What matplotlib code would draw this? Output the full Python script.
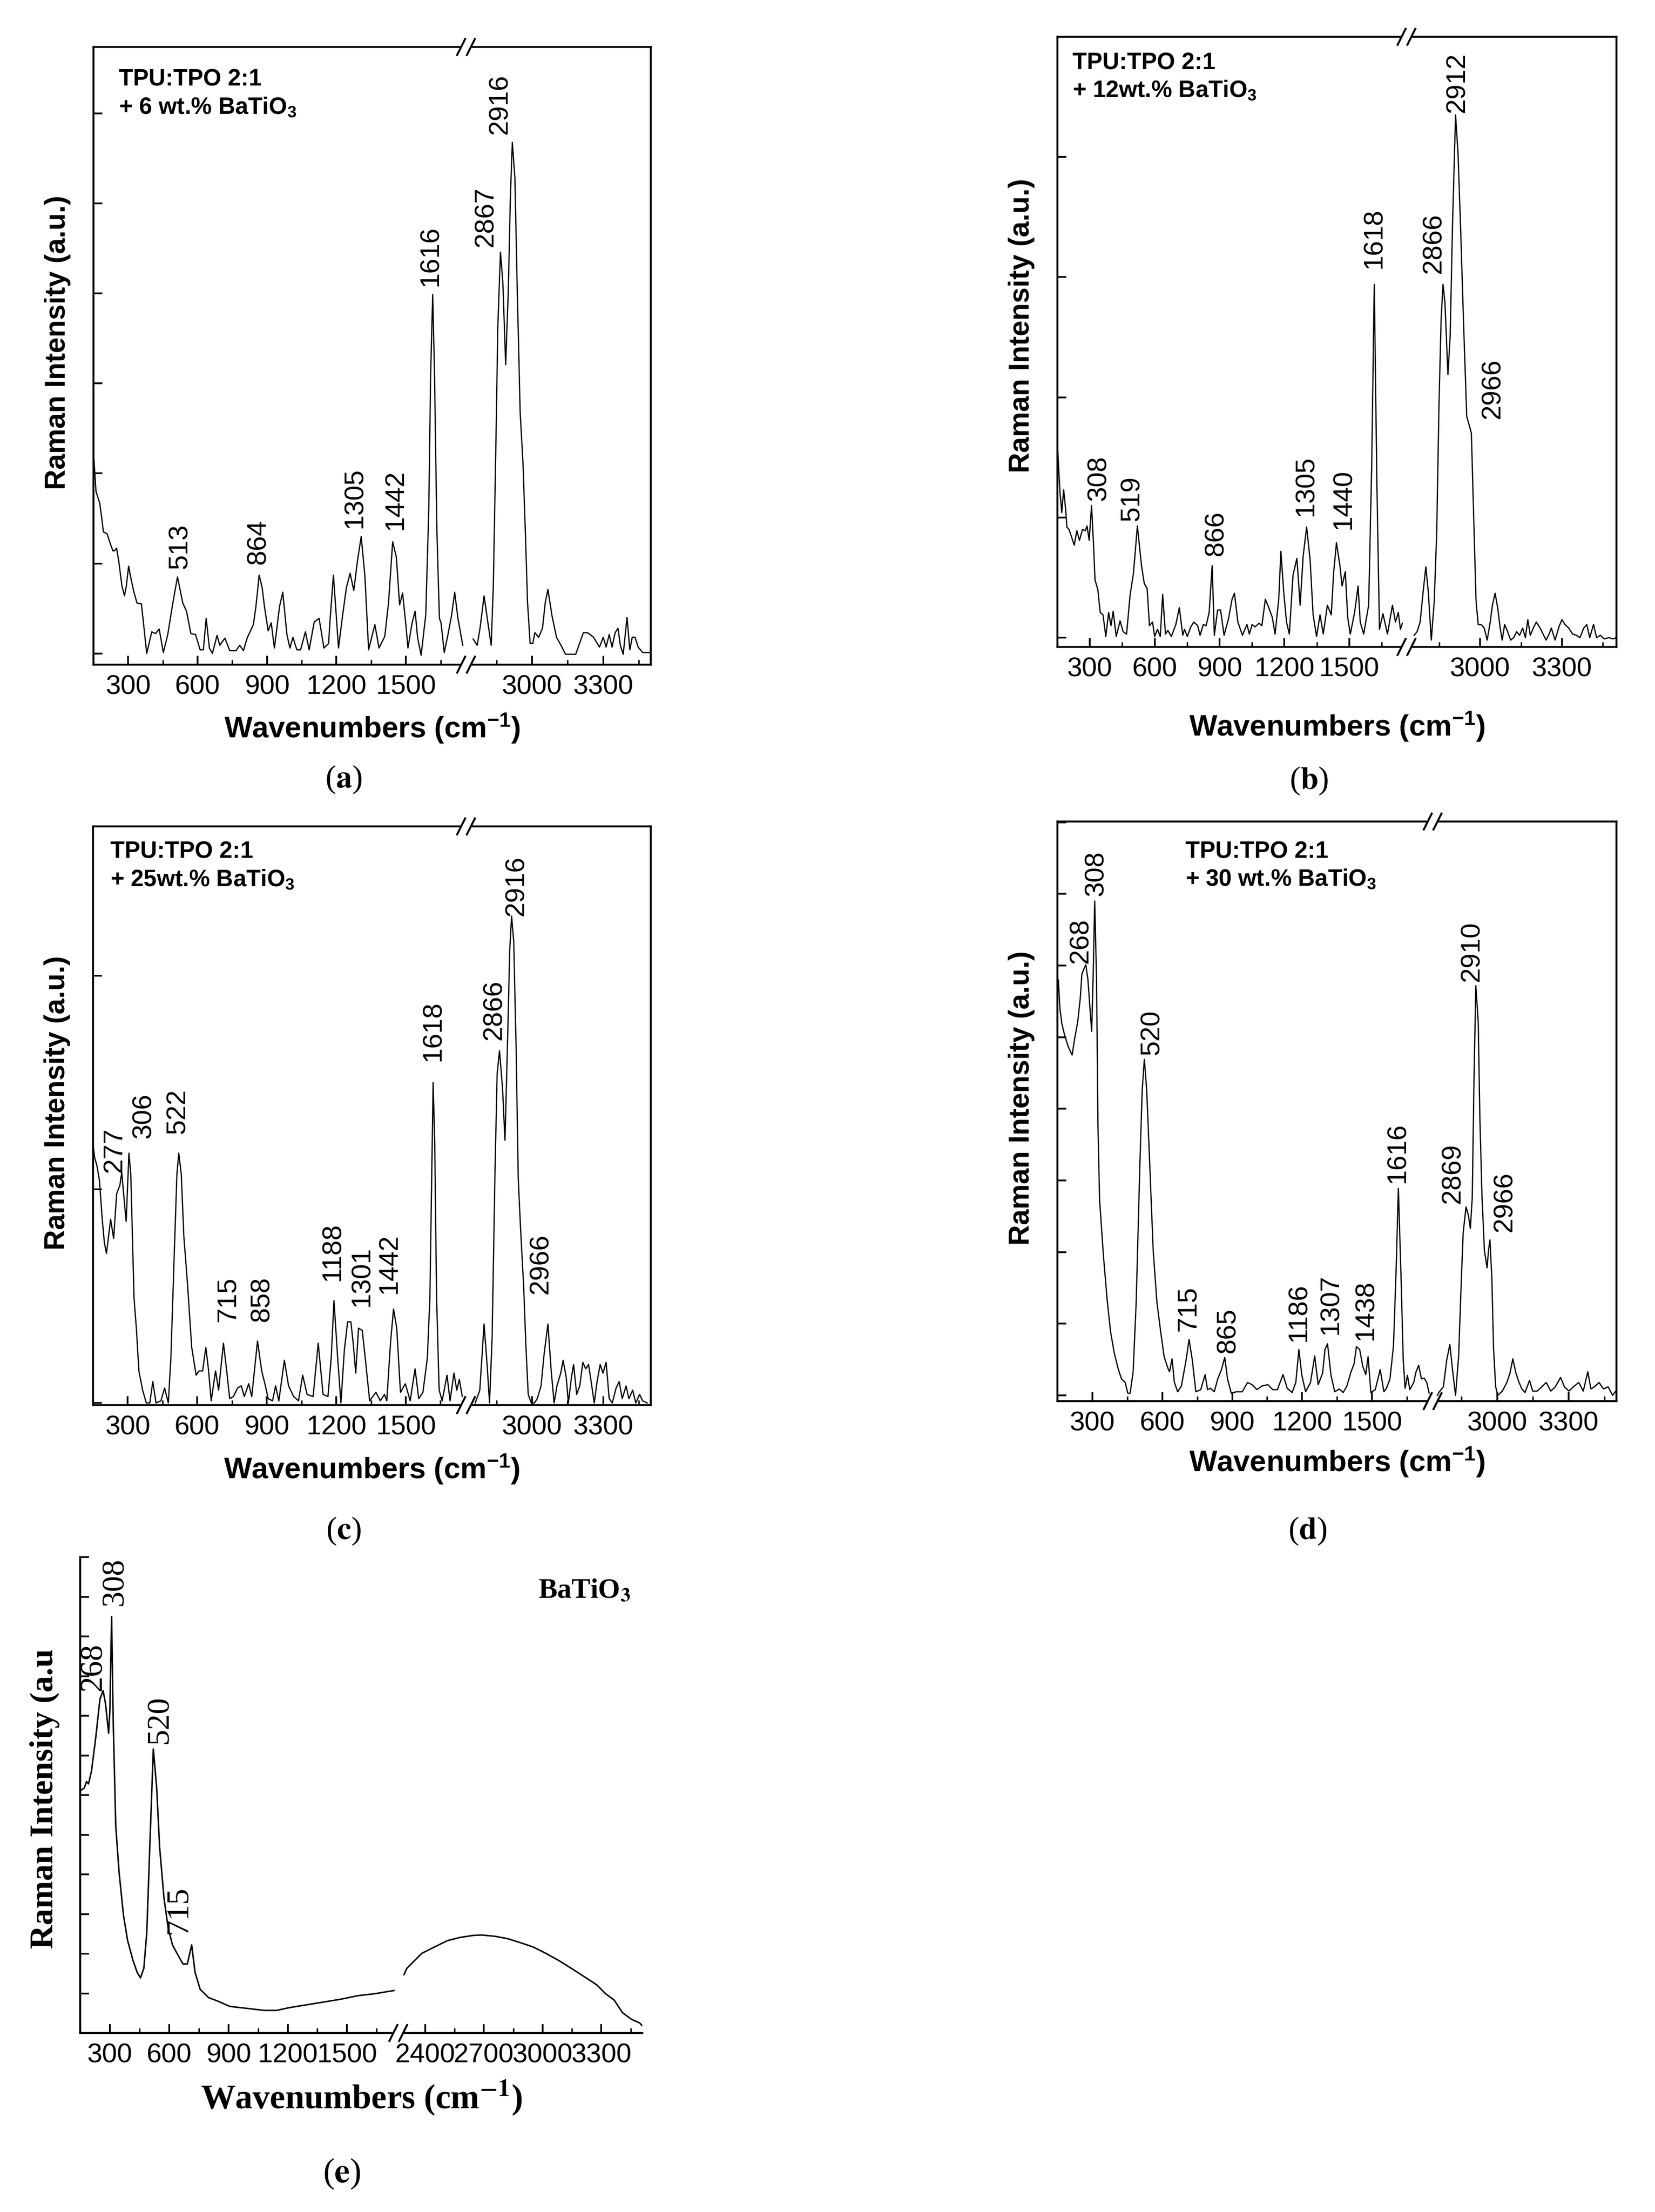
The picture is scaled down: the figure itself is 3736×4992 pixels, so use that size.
import matplotlib
matplotlib.use("Agg")
import matplotlib.pyplot as plt
from matplotlib.ticker import MultipleLocator
from matplotlib.lines import Line2D
from matplotlib.patches import Rectangle

plt.rcParams['font.family'] = ['Liberation Sans', 'DejaVu Sans']
plt.rcParams['mathtext.fontset'] = 'custom'
plt.rcParams['mathtext.rm'] = 'Liberation Sans'
plt.rcParams['mathtext.it'] = 'Liberation Sans:italic'
plt.rcParams['mathtext.bf'] = 'Liberation Sans:bold'

# ---------------- spectra (wavenumber, intensity a.u.) ----------------
a_left = [(150, 2.23), (161, 1.80), (177, 1.67), (187, 1.48), (193, 1.35), (209, 1.33), (220, 1.24),
          (234, 1.14), (241, 1.14), (250, 1.17), (259, 1.03), (273, 0.75), (284, 0.64), (292, 0.75),
          (302, 0.97), (313, 0.82), (324, 0.69), (338, 0.56), (357, 0.55), (364, 0.39), (380, 0.00),
          (402, 0.24), (418, 0.22), (434, 0.27), (452, 0.01), (471, 0.21), (493, 0.56), (513, 0.85),
          (536, 0.56), (552, 0.47), (571, 0.22), (591, 0.21), (611, 0.04), (625, 0.04), (637, 0.39),
          (651, 0.06), (664, 0.00), (684, 0.20), (696, 0.09), (718, 0.17), (739, 0.03), (766, 0.03),
          (782, 0.09), (798, 0.03), (814, 0.17), (841, 0.32), (852, 0.52), (866, 0.87), (879, 0.73),
          (889, 0.52), (905, 0.25), (918, 0.34), (932, 0.06), (954, 0.52), (968, 0.68), (986, 0.21),
          (999, 0.06), (1012, 0.18), (1029, 0.04), (1045, 0.04), (1066, 0.24), (1082, 0.04),
          (1104, 0.35), (1125, 0.39), (1146, 0.06), (1166, 0.11), (1173, 0.39), (1187, 0.87),
          (1209, 0.06), (1227, 0.43), (1243, 0.73), (1259, 0.89), (1275, 0.70), (1291, 1.03),
          (1307, 1.30), (1323, 0.86), (1339, 0.04), (1366, 0.32), (1384, 0.06), (1409, 0.19),
          (1425, 0.56), (1443, 1.24), (1459, 1.07), (1473, 0.54), (1486, 0.67), (1500, 0.32),
          (1509, 0.06), (1527, 0.34), (1540, 0.47), (1551, 0.17), (1566, -0.02), (1586, 0.43),
          (1599, 1.59), (1607, 3.09), (1616, 3.99), (1624, 3.09), (1634, 1.37), (1645, 0.39),
          (1652, 0.34), (1666, 0.01), (1682, 0.21), (1698, 0.43), (1711, 0.68), (1725, 0.39),
          (1746, 0.09)]
a_right = [(2752, 0.16), (2769, 0.09), (2781, 0.28), (2798, 0.64), (2812, 0.38), (2828, 0.09),
           (2837, 0.76), (2847, 2.20), (2856, 3.64), (2867, 4.46), (2877, 4.13), (2889, 3.21),
           (2900, 4.03), (2909, 5.09), (2917, 5.68), (2928, 5.28), (2937, 4.13), (2950, 2.68),
           (2962, 2.11), (2972, 1.34), (2981, 0.57), (2992, 0.11), (3003, 0.11), (3012, 0.23),
           (3028, 0.18), (3044, 0.28), (3056, 0.57), (3067, 0.71), (3084, 0.42), (3103, 0.18),
           (3122, 0.09), (3141, -0.01), (3159, -0.01), (3184, -0.01), (3216, 0.23), (3234, 0.23),
           (3259, 0.18), (3284, 0.07), (3300, 0.18), (3312, 0.07), (3325, 0.21), (3337, 0.07),
           (3350, 0.23), (3362, 0.28), (3372, 0.09), (3384, -0.01), (3400, 0.40), (3412, 0.04),
           (3422, 0.18), (3434, 0.18), (3447, 0.07), (3466, 0.01), (3497, 0.01)]

b_left = [(151, 1.57), (162, 1.21), (170, 1.04), (179, 1.23), (188, 1.07), (194, 0.92), (204, 0.90),
          (215, 0.84), (228, 0.77), (240, 0.89), (252, 0.81), (266, 0.90), (279, 0.89), (287, 0.93),
          (297, 0.81), (308, 1.10), (318, 0.74), (324, 0.48), (337, 0.40), (348, 0.21), (361, 0.19),
          (374, 0.01), (387, 0.21), (398, 0.10), (408, 0.22), (422, 0.01), (440, 0.14), (454, 0.05),
          (470, 0.03), (486, 0.35), (502, 0.54), (520, 0.93), (539, 0.60), (552, 0.45), (565, 0.41),
          (576, 0.10), (590, 0.13), (600, 0.01), (613, 0.07), (626, 0.01), (637, 0.36), (650, 0.03),
          (661, 0.06), (677, 0.01), (698, 0.11), (714, 0.25), (730, 0.02), (738, 0.07), (751, 0.01),
          (767, 0.09), (781, 0.13), (799, 0.10), (810, 0.02), (825, 0.11), (838, 0.10), (852, 0.21),
          (866, 0.60), (876, 0.02), (891, 0.23), (905, 0.23), (921, 0.02), (942, 0.16), (958, 0.32),
          (969, 0.37), (985, 0.13), (1006, 0.02), (1027, 0.11), (1038, 0.03), (1051, 0.11),
          (1064, 0.09), (1083, 0.12), (1096, 0.10), (1112, 0.32), (1130, 0.24), (1144, 0.17),
          (1157, 0.03), (1174, 0.32), (1184, 0.72), (1197, 0.38), (1210, 0.13), (1223, 0.03),
          (1240, 0.52), (1258, 0.66), (1273, 0.27), (1287, 0.68), (1303, 0.92), (1319, 0.65),
          (1333, 0.19), (1349, 0.01), (1365, 0.19), (1380, 0.03), (1399, 0.27), (1417, 0.19),
          (1428, 0.54), (1441, 0.79), (1457, 0.60), (1467, 0.43), (1482, 0.55), (1493, 0.17),
          (1505, 0.03), (1525, 0.21), (1541, 0.43), (1551, 0.13), (1567, 0.03), (1590, 0.27),
          (1604, 1.43), (1616, 2.94), (1628, 1.29), (1640, 0.07), (1656, 0.20), (1677, 0.03),
          (1700, 0.27), (1714, 0.13), (1727, 0.21), (1737, 0.07), (1746, 0.12)]
b_right = [(2758, 0.02), (2769, 0.05), (2780, 0.13), (2791, 0.38), (2801, 0.59), (2810, 0.38),
           (2821, -0.02), (2832, 0.31), (2841, 0.89), (2849, 1.92), (2857, 2.65), (2864, 2.94),
           (2871, 2.79), (2882, 2.19), (2890, 2.50), (2899, 3.45), (2910, 4.35), (2919, 4.03),
           (2929, 3.37), (2940, 2.57), (2951, 1.84), (2960, 1.77), (2968, 1.70), (2976, 1.04),
           (2985, 0.31), (2993, 0.11), (3004, 0.11), (3015, 0.08), (3026, -0.02), (3037, 0.13),
           (3045, 0.27), (3055, 0.37), (3065, 0.24), (3073, 0.09), (3081, -0.02), (3090, 0.11),
           (3101, 0.05), (3112, -0.02), (3123, 0.00), (3134, 0.05), (3145, 0.02), (3156, 0.08),
           (3166, 0.00), (3175, 0.15), (3184, 0.02), (3195, 0.08), (3206, 0.13), (3220, 0.08),
           (3231, 0.03), (3242, -0.02), (3253, 0.03), (3261, 0.08), (3275, -0.02), (3289, 0.09),
           (3300, 0.15), (3311, 0.11), (3325, 0.08), (3339, 0.03), (3353, 0.02), (3366, 0.00),
           (3380, 0.08), (3391, 0.11), (3402, 0.00), (3416, 0.11), (3427, 0.00), (3441, 0.02),
           (3455, -0.01), (3472, 0.00), (3488, -0.01), (3499, 0.00)]

c_left = [(150, 1.21), (157, 1.15), (167, 1.11), (178, 1.04), (189, 0.87), (199, 0.75), (208, 0.70),
          (217, 0.78), (226, 0.86), (239, 0.77), (252, 0.98), (266, 1.02), (274, 1.08), (282, 0.98),
          (293, 0.85), (305, 1.17), (313, 1.07), (327, 0.49), (337, 0.35), (348, 0.15), (364, 0.06),
          (380, 0.00), (395, 0.00), (408, 0.10), (422, 0.00), (443, 0.01), (459, 0.07), (475, 0.00),
          (486, 0.21), (501, 0.71), (512, 1.07), (520, 1.17), (531, 1.07), (542, 0.78), (557, 0.57),
          (576, 0.26), (595, 0.13), (607, 0.15), (623, 0.15), (637, 0.26), (648, 0.16), (660, 0.01),
          (679, 0.15), (692, 0.06), (713, 0.28), (726, 0.16), (740, 0.02), (756, 0.03), (774, 0.07),
          (790, 0.08), (803, 0.03), (822, 0.09), (835, 0.03), (860, 0.29), (878, 0.15), (894, 0.08),
          (906, 0.02), (925, 0.01), (938, 0.08), (952, 0.01), (976, 0.20), (994, 0.08), (1016, 0.03),
          (1037, 0.01), (1055, 0.13), (1074, 0.04), (1100, 0.03), (1122, 0.28), (1143, 0.04),
          (1164, 0.03), (1178, 0.21), (1190, 0.48), (1206, 0.21), (1220, 0.00), (1235, 0.25),
          (1249, 0.38), (1263, 0.38), (1273, 0.28), (1284, 0.14), (1296, 0.35), (1312, 0.34),
          (1328, 0.18), (1344, 0.01), (1371, 0.05), (1390, 0.01), (1408, 0.04), (1418, 0.01),
          (1434, 0.28), (1447, 0.44), (1461, 0.35), (1477, 0.05), (1498, 0.09), (1519, 0.01),
          (1540, 0.16), (1556, 0.02), (1574, 0.05), (1593, 0.21), (1604, 0.49), (1610, 0.92),
          (1618, 1.50), (1625, 1.21), (1633, 0.49), (1644, 0.06), (1657, 0.01), (1678, 0.13),
          (1691, 0.01), (1708, 0.14), (1720, 0.06), (1731, 0.11), (1744, 0.03)]
c_right = [(2761, 0.00), (2780, 0.06), (2798, 0.37), (2812, 0.16), (2821, 0.00), (2832, 0.31),
           (2844, 1.08), (2853, 1.54), (2863, 1.65), (2876, 1.47), (2886, 1.23), (2898, 1.74),
           (2906, 2.12), (2914, 2.28), (2923, 2.16), (2933, 1.66), (2942, 1.05), (2952, 0.81),
           (2965, 0.54), (2974, 0.27), (2984, 0.04), (2997, 0.00), (3010, 0.00), (3022, 0.02),
           (3038, 0.08), (3051, 0.23), (3067, 0.37), (3080, 0.16), (3093, 0.00), (3105, 0.08),
           (3121, 0.14), (3131, 0.20), (3144, 0.12), (3153, 0.00), (3166, 0.12), (3175, 0.18),
           (3188, 0.04), (3201, 0.08), (3214, 0.19), (3226, 0.16), (3238, 0.18), (3249, 0.10),
           (3262, 0.00), (3274, 0.10), (3287, 0.18), (3299, 0.14), (3312, 0.19), (3325, 0.02),
           (3338, 0.00), (3354, 0.07), (3367, 0.10), (3380, 0.02), (3396, 0.08), (3408, 0.02),
           (3424, 0.06), (3437, 0.00), (3453, 0.04), (3466, 0.01), (3485, 0.00)]

d_left = [(154, 5.80), (161, 5.39), (169, 5.19), (180, 5.04), (195, 4.88), (213, 4.75), (224, 4.98),
          (237, 5.21), (248, 5.54), (255, 5.88), (263, 5.95), (272, 6.01), (281, 5.80), (290, 5.39),
          (297, 5.08), (303, 5.80), (310, 6.90), (318, 5.80), (324, 3.76), (331, 2.73), (347, 1.97),
          (363, 1.35), (378, 0.89), (394, 0.59), (410, 0.38), (425, 0.23), (441, 0.18), (452, 0.03),
          (462, 0.03), (475, 0.33), (488, 1.30), (504, 3.24), (514, 4.27), (523, 4.69), (533, 4.27),
          (546, 3.24), (561, 2.02), (577, 1.30), (593, 0.89), (608, 0.54), (624, 0.38), (631, 0.33),
          (642, 0.51), (652, 0.18), (666, 0.05), (682, 0.13), (702, 0.49), (715, 0.78), (729, 0.49),
          (744, 0.05), (765, 0.08), (784, 0.29), (794, 0.08), (807, 0.10), (823, 0.05), (838, 0.23),
          (854, 0.36), (868, 0.53), (880, 0.23), (896, 0.03), (917, 0.05), (943, 0.05), (966, 0.18),
          (985, 0.15), (1006, 0.08), (1027, 0.13), (1053, 0.15), (1074, 0.08), (1094, 0.08),
          (1118, 0.29), (1136, 0.10), (1157, 0.04), (1173, 0.18), (1186, 0.64), (1199, 0.28),
          (1215, 0.05), (1236, 0.18), (1254, 0.55), (1269, 0.15), (1288, 0.31), (1298, 0.64),
          (1309, 0.72), (1324, 0.28), (1340, 0.05), (1359, 0.09), (1376, 0.04), (1392, 0.13),
          (1410, 0.33), (1423, 0.44), (1433, 0.68), (1447, 0.64), (1460, 0.41), (1473, 0.29),
          (1483, 0.54), (1495, 0.04), (1514, 0.08), (1535, 0.36), (1551, 0.05), (1562, 0.10),
          (1577, 0.23), (1592, 0.69), (1603, 1.71), (1613, 2.89), (1624, 1.71), (1634, 0.49),
          (1642, 0.10), (1652, 0.28), (1662, 0.08), (1679, 0.18), (1689, 0.33), (1700, 0.42),
          (1712, 0.23), (1724, 0.24), (1735, 0.18), (1745, 0.03)]
d_right = [(2750, 0.00), (2756, 0.04), (2775, 0.12), (2789, 0.49), (2802, 0.71), (2815, 0.31),
           (2826, 0.00), (2839, 0.55), (2848, 1.41), (2858, 2.27), (2870, 2.63), (2880, 2.51),
           (2888, 2.33), (2896, 2.76), (2903, 4.35), (2911, 5.72), (2921, 5.21), (2928, 3.86),
           (2937, 2.76), (2947, 2.02), (2958, 1.78), (2964, 2.02), (2970, 2.17), (2978, 1.65),
           (2985, 0.67), (2994, 0.12), (3003, 0.00), (3022, 0.06), (3041, 0.18), (3054, 0.31),
           (3066, 0.51), (3079, 0.31), (3092, 0.18), (3104, 0.09), (3117, 0.04), (3136, 0.21),
           (3149, 0.06), (3168, 0.06), (3187, 0.12), (3206, 0.18), (3225, 0.06), (3244, 0.12),
           (3266, 0.25), (3282, 0.12), (3301, 0.06), (3320, 0.12), (3342, 0.18), (3361, 0.06),
           (3380, 0.33), (3393, 0.09), (3408, 0.12), (3427, 0.18), (3446, 0.09), (3465, 0.12),
           (3484, 0.00), (3497, 0.06)]

e_left = [(154, 6.12), (171, 6.18), (182, 6.34), (192, 6.28), (207, 6.60), (229, 7.46), (250, 8.42),
          (266, 8.63), (278, 8.31), (294, 7.56), (300, 8.10), (309, 10.50), (317, 7.88), (330, 5.21),
          (347, 4.04), (369, 2.97), (390, 2.33), (416, 1.85), (438, 1.53), (455, 1.39), (472, 1.63),
          (487, 2.54), (502, 4.68), (520, 7.16), (537, 6.18), (552, 4.68), (574, 3.40), (595, 2.65),
          (617, 2.22), (645, 1.96), (670, 1.74), (692, 1.74), (714, 2.22), (731, 1.53), (757, 1.10),
          (800, 0.89), (843, 0.81), (907, 0.67), (994, 0.62), (1080, 0.57), (1144, 0.57),
          (1209, 0.64), (1295, 0.71), (1381, 0.78), (1467, 0.85), (1554, 0.94), (1640, 0.99),
          (1737, 1.07)]
e_right = [(2291, 1.47), (2306, 1.63), (2328, 1.74), (2383, 2.01), (2448, 2.17), (2514, 2.33),
           (2579, 2.41), (2645, 2.46), (2688, 2.47), (2754, 2.44), (2820, 2.38), (2885, 2.28),
           (2951, 2.17), (3016, 2.01), (3082, 1.83), (3147, 1.63), (3213, 1.42), (3278, 1.21),
           (3322, 0.99), (3366, 0.83), (3409, 0.51), (3453, 0.35), (3497, 0.25), (3508, 0.19)]

# ---------------- peak labels (text, wavenumber, height of label foot) ----------------
a_peaks = [("513", 525, 0.94), ("864", 862, 0.99), ("1305", 1280, 1.39), ("1442", 1455, 1.37),
           ("1616", 1607, 4.08), ("2867", 2806, 4.52), ("2916", 2866, 5.77)]
b_peaks = [("308", 342, 1.14), ("519", 496, 0.97), ("866", 884, 0.68), ("1305", 1301, 1.01),
           ("1440", 1475, 0.90), ("1618", 1616, 3.07), ("2866", 2830, 3.03), ("2912", 2917, 4.37),
           ("2966", 3047, 1.82)]
c_peaks = [("277", 242, 1.08), ("306", 369, 1.24), ("522", 517, 1.26), ("715", 732, 0.38),
           ("858", 880, 0.38), ("1188", 1185, 0.57), ("1301", 1312, 0.45), ("1442", 1429, 0.51),
           ("1618", 1620, 1.60), ("2866", 2841, 1.70), ("2916", 2935, 2.28), ("2966", 3038, 0.51)]
d_peaks = [("268", 251, 6.03), ("308", 316, 6.97), ("520", 556, 4.75), ("715", 713, 0.90),
           ("865", 882, 0.59), ("1186", 1186, 0.75), ("1307", 1324, 0.85), ("1438", 1474, 0.77),
           ("1616", 1610, 2.96), ("2869", 2815, 2.68), ("2910", 2895, 5.78), ("2966", 3032, 2.28)]
e_peaks = [("308", 326, 10.77), ("268", 218, 8.63), ("520", 552, 7.30), ("715", 649, 2.49)]

notes = ["TPU:TPO 2:1\n+ 6 wt.% BaTiO$_\\mathbf{3}$",
         "TPU:TPO 2:1\n+ 12wt.% BaTiO$_\\mathbf{3}$",
         "TPU:TPO 2:1\n+ 25wt.% BaTiO$_\\mathbf{3}$",
         "TPU:TPO 2:1\n+ 30 wt.% BaTiO$_\\mathbf{3}$"]

W, H = 3736, 4992
fig = plt.figure(figsize=(W / 400, H / 400), dpi=400)


def fx(px):
    return px / W


def fy(py):
    return 1 - py / H


def break_mark(xpx, ypx):
    # white gap in the frame plus the two slashes
    fig.add_artist(Rectangle((fx(xpx - 10), fy(ypx + 6)), 20 / W, 12 / H,
                             transform=fig.transFigure, color='white', zorder=5))
    for dx in (-11, 11):
        fig.add_artist(Line2D([fx(xpx + dx - 9), fx(xpx + dx + 9)], [fy(ypx + 18), fy(ypx - 18)],
                              transform=fig.transFigure, color='k', lw=0.8, zorder=6))


def style(ax):
    ax.tick_params(which='major', direction='in', length=3.6, width=0.7, labelsize=11, pad=4,
                   top=False, right=False)
    ax.tick_params(which='minor', direction='in', length=1.9, width=0.6, top=False, right=False)
    ax.xaxis.set_major_locator(MultipleLocator(300))
    ax.xaxis.set_minor_locator(MultipleLocator(150))
    ax.yaxis.set_major_locator(MultipleLocator(1))
    ax.yaxis.set_minor_locator(MultipleLocator(1))
    for s in ax.spines.values():
        s.set_linewidth(0.8)


def panel(box, brk, xl1, xl2, ylim, left, right, peaks, letter_xy, xlab_y, ylab_y,
          tpu=True, note=None, note_xy=None, letter=""):
    l, r, t, b = box
    ax1 = fig.add_axes([fx(l), fy(b), (brk - l) / W, (b - t) / H])
    ax2 = fig.add_axes([fx(brk), fy(b), (r - brk) / W, (b - t) / H])
    for ax, seg, xl in ((ax1, left, xl1), (ax2, right, xl2)):
        style(ax)
        ax.plot([p[0] for p in seg], [p[1] for p in seg], color='k', lw=0.5 if tpu else 0.6)
        ax.set_xlim(*xl)
        ax.set_ylim(*ylim)
    ax1.tick_params(which='both', labelleft=False)
    ax2.tick_params(which='both', left=False, labelleft=False)
    ax1.spines['right'].set_visible(False)
    ax2.spines['left'].set_visible(False)
    if not tpu:
        for ax in (ax1, ax2):
            ax.spines['top'].set_visible(False)
            ax.spines['right'].set_visible(False)
    for name, x, y in peaks:
        ax = ax1 if x < 2000 else ax2
        if tpu:
            ax.text(x, y, name, rotation=90, ha='center', va='bottom', fontsize=11)
        else:
            ax.text(x, y, name, rotation=90, ha='center', va='bottom', fontsize=13,
                    family='Liberation Serif')
    # break marks
    if tpu:
        break_mark(brk, t)
    break_mark(brk, b)
    # labels
    cx = (l + r) / 2
    lx, ly = letter_xy
    if tpu:
        fig.text(fx(cx), fy(xlab_y), r"Wavenumbers (cm$^{\mathbf{-1}}$)", ha='center', va='center',
                 fontsize=12, fontweight='bold')
        fig.text(fx(l - 81), fy(ylab_y), "Raman Intensity (a.u.)", rotation=90, ha='center',
                 va='center', fontsize=11.5, fontweight='bold')
        nx, ny = note_xy
        fig.text(fx(l + nx * (r - l)), fy(t + (1 - ny) * (b - t)), note, ha='left', va='top',
                 fontsize=9.5, fontweight='bold', linespacing=1.3)
        fig.text(fx(lx), fy(ly), "(" + r"$\mathbf{%s}$" % letter + ")", ha='center',
                 va='center', fontsize=13, family='Liberation Serif', math_fontfamily='stix')
    else:
        fig.text(fx(cx), fy(xlab_y), r"Wavenumbers (cm$^{\mathbf{-1}}$)", ha='center', va='center',
                 fontsize=14, fontweight='bold', family='Liberation Serif', math_fontfamily='stix')
        fig.text(fx(l - 80), fy(ylab_y), "Raman Intensity (a.u", rotation=90, ha='center',
                 va='center', fontsize=13.5, fontweight='bold', family='Liberation Serif')
        fig.text(fx(l + 0.979 * (r - l)), fy(t + 0.045 * (b - t)), r"BaTiO$_\mathbf{3}$",
                 ha='right', va='top', fontsize=11.5, fontweight='bold', family='Liberation Serif',
                 math_fontfamily='stix')
        fig.text(fx(lx), fy(ly), "(" + r"$\mathbf{%s}$" % letter + ")", ha='center',
                 va='center', fontsize=14, family='Liberation Serif', math_fontfamily='stix')
    return ax1, ax2


panel((211, 1469, 106, 1500), 1052, (150, 1760), (2722, 3500), (-0.125, 6.74),
      a_left, a_right, a_peaks, (776, 1759), 1644, 773,
      note=notes[0], note_xy=(0.045, 0.965), letter="a")
panel((2387, 3649, 83, 1460), 3175, (150, 1765), (2730, 3500), (-0.077, 5.0),
      b_left, b_right, b_peaks, (2955, 1762), 1640, 735,
      note=notes[1], note_xy=(0.027, 0.975), letter="b")
panel((210, 1469, 1865, 3171), 1052, (150, 1760), (2722, 3500), (-0.01, 2.70),
      c_left, c_right, c_peaks, (776, 3455), 3316, 2489,
      note=notes[2], note_xy=(0.031, 0.975), letter="c")
panel((2387, 3649, 1854, 3162), 3234, (150, 1760), (2730, 3500), (-0.08, 8.01),
      d_left, d_right, d_peaks, (2952, 3455), 3300, 2478,
      note=notes[3], note_xy=(0.229, 0.967), letter="d")
panel((181, 1450, 3514, 4588), 899, (150, 1759), (2262, 3510), (0, 12),
      e_left, e_right, e_peaks, (771, 4906), 4734, 4059, tpu=False, letter="e")

fig.savefig("out.png", dpi=400)
